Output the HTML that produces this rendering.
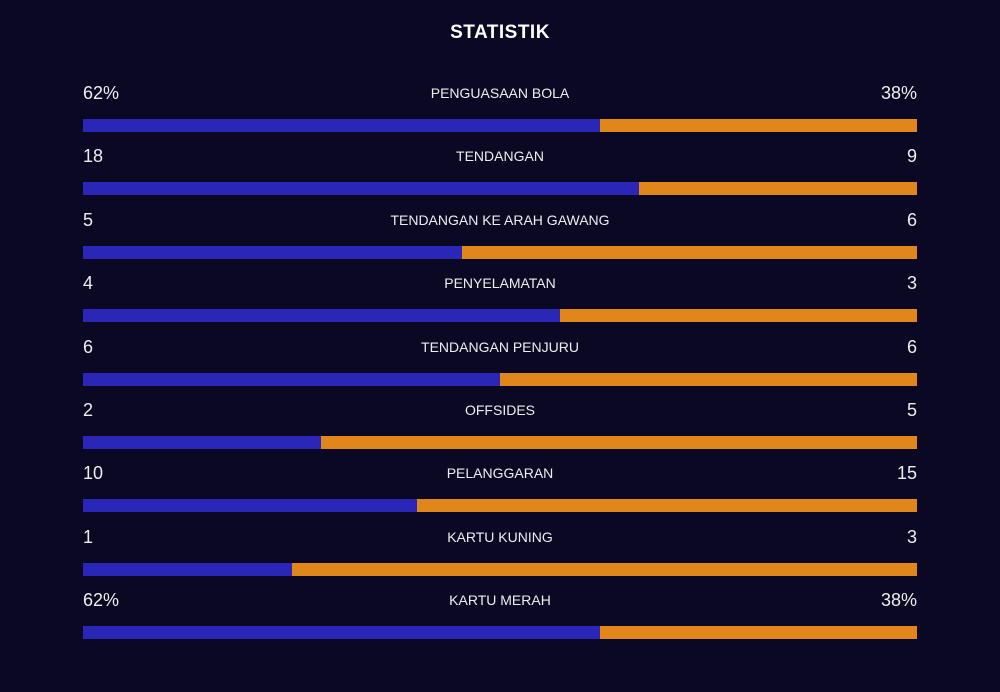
<!DOCTYPE html>
<html><head><meta charset="utf-8"><style>
html,body{margin:0;padding:0;background:#0a0822;width:1000px;height:692px;overflow:hidden;font-family:"Liberation Sans",sans-serif;color:#fff}
#title{position:absolute;top:22px;left:0;width:1000px;text-align:center;font-weight:bold;font-size:19px;letter-spacing:0.5px}
.row{position:absolute;left:83px;width:834px;height:60px}
.lv,.rv{position:absolute;top:0;font-size:18px;color:#eee;line-height:24px}
.lv{left:0}.rv{right:0}
.lb{position:absolute;top:1px;left:0;width:834px;text-align:center;font-size:14px;line-height:22px;color:#eee}
.bar{position:absolute;top:38px;left:0;width:834px;height:13px;background:#e0861a}
.bl{position:absolute;top:0;left:0;height:13px;background:#2a27b8}
</style></head><body>
<div id="title">STATISTIK</div>
<div id="rows"></div>
<script>
const labels=["PENGUASAAN BOLA","TENDANGAN","TENDANGAN KE ARAH GAWANG","PENYELAMATAN","TENDANGAN PENJURU","OFFSIDES","PELANGGARAN","KARTU KUNING","KARTU MERAH"];
const leftValues=[62,18,5,4,6,2,10,1,62];
const rightValues=[38,9,6,3,6,5,15,3,38];
const suffixes=["%","","","","","","","","%"];
const root=document.getElementById('rows');
labels.forEach((lab,i)=>{
  const r=document.createElement('div');r.className='row';r.style.top=(81+i*63.4)+'px';
  
  
  const l=document.createElement('div');l.className='lv';l.textContent=leftValues[i]+suffixes[i];
  
  
  const c=document.createElement('div');c.className='lb';c.textContent=lab;
  
  
  const rv=document.createElement('div');rv.className='rv';rv.textContent=rightValues[i]+suffixes[i];
  
  
  const b=document.createElement('div');b.className='bar';
  
  
  const bl=document.createElement('div');bl.className='bl';
  
  
  const tot=leftValues[i]+rightValues[i];
  bl.style.width=(tot?leftValues[i]/tot*834:417)+'px';
  b.appendChild(bl);
  r.append(l,c,rv,b);root.appendChild(r);
});
</script>
</body></html>
